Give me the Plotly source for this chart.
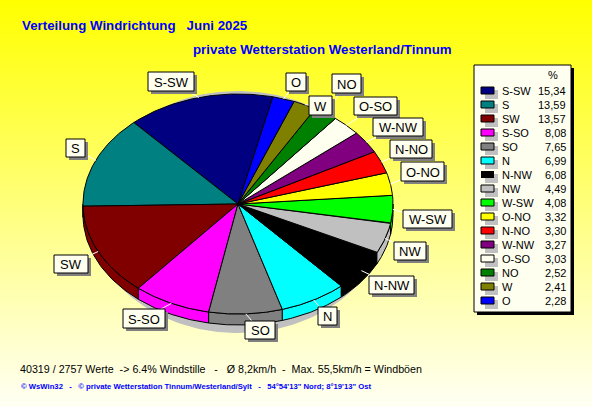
import numpy as np
import plotly.graph_objects as go

# --- data ---
categories = ["S-SW", "S", "SW", "S-SO", "SO", "N", "N-NW", "NW", "W-SW", "O-NO", "N-NO", "W-NW", "O-SO", "NO", "W", "O"]
values = [15.34, 13.59, 13.57, 8.08, 7.65, 6.99, 6.08, 4.49, 4.08, 3.32, 3.30, 3.27, 3.03, 2.52, 2.41, 2.28]
value_labels = ["15,34", "13,59", "13,57", "8,08", "7,65", "6,99", "6,08", "4,49", "4,08", "3,32", "3,30", "3,27", "3,03", "2,52", "2,41", "2,28"]

# --- style / layout ---
colors = ["#000080", "#008080", "#800000", "#FF00FF", "#808080", "#00FFFF", "#000000", "#C0C0C0",
          "#00FF00", "#FFFF00", "#FF0000", "#800080", "#FFFFF0", "#008000", "#808000", "#0000FF"]
W, H = 592, 407
CX, CY, RX, RY, DEPTH = 238, 204, 155, 110, 11
START = 77.0
boxes = {"S-SW": (148, 72, 194, 91), "S": (66, 139, 85, 157), "SW": (54, 255, 88, 273),
         "S-SO": (123, 309, 165, 328), "SO": (245, 321, 275, 339), "O": (286, 73, 306, 91),
         "W": (309, 96, 332, 115), "NO": (332, 74, 361, 93), "O-SO": (354, 97, 397, 115),
         "W-NW": (373, 118, 423, 136), "N-NO": (390, 140, 432, 158), "O-NO": (401, 162, 444, 181),
         "W-SW": (403, 210, 452, 228), "NW": (394, 242, 426, 260), "N-NW": (369, 276, 414, 294),
         "N": (318, 307, 337, 325)}
SANS = "Liberation Sans"


def ell(deg, dy=0.0, cx=CX, cy=CY, rx=RX, ry=RY):
    t = np.radians(deg)
    return cx + rx * np.cos(t), cy - ry * np.sin(t) + dy


fig = go.Figure()

# background gradient
ramp = np.arange(H) + 0.5
fig.add_trace(go.Heatmap(z=[[v] for v in ramp], x0=W / 2, dx=W, y0=0.5, dy=1,
                         colorscale=[[0, "#FFFF00"], [1, "#FFFFF4"]], showscale=False, hoverinfo="skip"))


def poly(xs, ys, fill, line="#000000", lw=1.0):
    fig.add_trace(go.Scatter(x=xs, y=ys, mode="lines", fill="toself", fillcolor=fill,
                             line=dict(color=line, width=lw), hoverinfo="skip", showlegend=False))


# drop shadow of the pie
sa = np.linspace(0, 360, 241)
sx, sy = ell(sa, cx=238, cy=212, rx=150, ry=121)
poly(sx, sy, "#C0C0C0", "#C0C0C0", 0)

# wedge angles from the values
fractions = np.array(values) / sum(values)
edges = START + 360 * np.concatenate([[0], np.cumsum(fractions)])

# side walls (only the lower half of the rim shows)
for i, col in enumerate(colors):
    for off in (0, 360):
        a0 = max(edges[i] - off, 180)
        a1 = min(edges[i + 1] - off, 360)
        if a1 > a0:
            a = np.linspace(a0, a1, 40)
            ux, uy = ell(a)
            lx, ly = ell(a[::-1], DEPTH)
            poly(np.r_[ux, lx, ux[0]], np.r_[uy, ly, uy[0]], col)

# top faces
for i, col in enumerate(colors):
    a = np.linspace(edges[i], edges[i + 1], 60)
    ex, ey = ell(a)
    poly(np.r_[CX, ex, CX], np.r_[CY, ey, CY], col)

shapes = []
annotations = []


def rect(x0, y0, x1, y1, fill, line=None, lw=1):
    shapes.append(dict(type="rect", xref="x", yref="y", x0=x0, y0=y0, x1=x1, y1=y1, fillcolor=fill,
                       line=dict(color=line or fill, width=lw if line else 0), layer="above"))


PAD = {"left": -2, "right": 2, "center": 0}


def text(x, y, s, size=11, color="#000000", anchor="left", family=SANS, bold=False):
    annotations.append(dict(x=x + PAD[anchor], y=y, xref="x", yref="y", text=f"<b>{s}</b>" if bold else s,
                            showarrow=False, xanchor=anchor, yanchor="middle", align=anchor,
                            font=dict(size=size, color=color, family=family)))


# leaders, then label boxes
for i, name in enumerate(categories):
    mid = (edges[i] + edges[i + 1]) / 2
    ex, ey = ell(mid)
    b = boxes[name]
    shapes.append(dict(type="line", xref="x", yref="y", x0=float(ex), y0=float(ey),
                       x1=(b[0] + b[2]) / 2, y1=(b[1] + b[3]) / 2, line=dict(color="#FFFFFF", width=1), layer="above"))
for i, name in enumerate(categories):
    b = boxes[name]
    rect(b[0] + 3, b[1] + 3, b[2] + 3, b[3] + 3, "#808080")
for i, name in enumerate(categories):
    b = boxes[name]
    rect(b[0], b[1], b[2], b[3], "#FFFFF0", "#000000", 1)
    text((b[0] + b[2]) / 2, (b[1] + b[3]) / 2 + 0.5, name, size=13, anchor="center")

# legend panel
rect(477, 68, 574, 315, "#000000")
rect(474, 65, 571, 312, "#FFFFF0", "#000000", 1)
text(553, 75, "%", size=11, anchor="center")
for i, name in enumerate(categories):
    y = 91 + i * 14
    rect(485, y - 1, 498, y + 8, "#C0C0C0")
    rect(481, y - 4, 494, y + 3, colors[i], "#000000" if colors[i] != "#000000" else None, 1)
    text(502, y, name, size=11)
    text(566, y, value_labels[i], size=11, anchor="right")

# titles and footer
text(22, 25, "Verteilung Windrichtung\u00a0\u00a0\u00a0Juni 2025", size=13.3, color="#0000FF", bold=True)
text(193, 49, "private Wetterstation Westerland/Tinnum", size=13.3, color="#0000FF", bold=True)
text(20, 369, "40319 / 2757 Werte\u00a0\u00a0-&gt; 6.4% Windstille\u00a0\u00a0\u00a0-\u00a0\u00a0\u00a0Ø 8,2km/h\u00a0\u00a0-\u00a0\u00a0Max. 55,5km/h = Windböen", size=10.7)
text(21, 386, "© WsWin32\u00a0\u00a0\u00a0-\u00a0\u00a0\u00a0© private Wetterstation Tinnum/Westerland/Sylt\u00a0\u00a0\u00a0-\u00a0\u00a0\u00a054°54'13\" Nord; 8°19'13\" Ost",
     size=7.7, color="#0000FF", family=SANS, bold=True)

fig.update_layout(width=W, height=H, margin=dict(l=0, r=0, t=0, b=0), showlegend=False,
                  paper_bgcolor="#FFFFF4", plot_bgcolor="#FFFFF4", shapes=shapes, annotations=annotations,
                  xaxis=dict(range=[0, W], visible=False, fixedrange=True),
                  yaxis=dict(range=[H, 0], visible=False, fixedrange=True))
# the page's default body margin would shift the picture by 8px
fig.write_html("out.html", config={"displayModeBar": False},
               post_script="document.body.style.margin='0';document.documentElement.style.overflow='hidden';")
